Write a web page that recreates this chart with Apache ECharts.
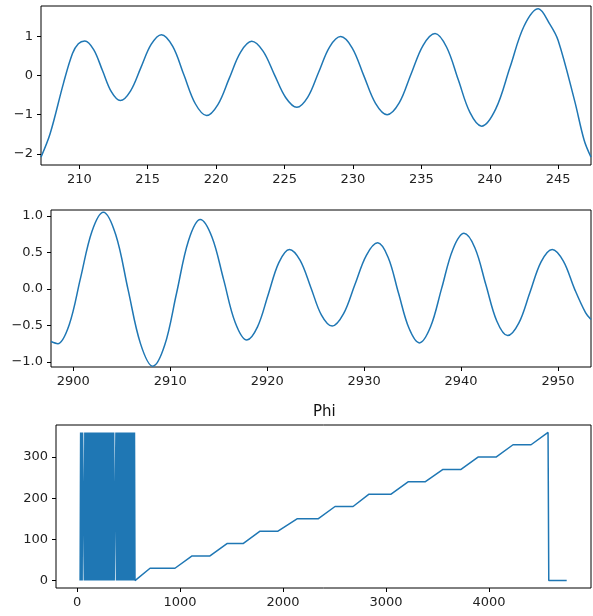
<!DOCTYPE html>
<html>
<head>
<meta charset="utf-8">
<script src="https://cdn.jsdelivr.net/npm/echarts@6/dist/echarts.min.js"></script>
<style>
html,body{margin:0;padding:0;background:#fff;}
#chart{width:593px;height:616px;}
</style>
</head>
<body>
<div id="chart"></div>
<script>
// ---- Panel 1 ----
const topX = [207.2, 207.87, 208.84, 209.5, 209.93, 210.4, 211.05, 211.7, 212.35, 213.0, 213.75, 214.5, 215.25, 216.0, 216.83, 217.65, 218.48, 219.3, 220.13, 220.95, 221.78, 222.6, 223.43, 224.25, 225.08, 225.9, 226.7, 227.5, 228.3, 229.1, 229.95, 230.8, 231.65, 232.5, 233.38, 234.25, 235.13, 236.0, 236.85, 237.7, 238.55, 239.4, 240.44, 241.48, 242.51, 243.55, 244.4, 245.0, 246.2, 246.9, 247.4];
const topY = [-2.08, -1.48, -0.2, 0.56, 0.81, 0.88, 0.66, 0.12, -0.42, -0.64, -0.39, 0.2, 0.79, 1.04, 0.74, 0.01, -0.72, -1.02, -0.74, -0.08, 0.59, 0.87, 0.62, 0.03, -0.56, -0.81, -0.55, 0.09, 0.73, 0.99, 0.7, -0.01, -0.71, -1.0, -0.7, 0.04, 0.77, 1.07, 0.72, -0.11, -0.94, -1.29, -0.85, 0.21, 1.26, 1.7, 1.3, 0.89, -0.64, -1.65, -2.08];
const topXTicks = [210, 215, 220, 225, 230, 235, 240, 245];
const topYTicks = [-2, -1, 0, 1];

// ---- Panel 2 ----
const midX = [2897.7, 2898.4, 2899.58, 2900.75, 2901.93, 2903.1, 2904.38, 2905.65, 2906.93, 2908.2, 2909.43, 2910.65, 2911.88, 2913.1, 2914.3, 2915.5, 2916.7, 2917.9, 2919.0, 2920.1, 2921.2, 2922.3, 2923.4, 2924.5, 2925.6, 2926.7, 2927.88, 2929.05, 2930.23, 2931.4, 2932.48, 2933.55, 2934.63, 2935.7, 2936.85, 2938.0, 2939.15, 2940.3, 2941.43, 2942.55, 2943.68, 2944.8, 2945.95, 2947.1, 2948.25, 2949.4, 2950.55, 2951.7, 2952.85, 2953.4];
const midY = [-0.72, -0.75, -0.49, 0.15, 0.79, 1.05, 0.74, -0.01, -0.75, -1.06, -0.77, -0.06, 0.66, 0.95, 0.71, 0.13, -0.46, -0.70, -0.52, -0.08, 0.36, 0.54, 0.39, 0.02, -0.36, -0.51, -0.34, 0.06, 0.46, 0.63, 0.43, -0.06, -0.54, -0.74, -0.52, 0.01, 0.54, 0.76, 0.56, 0.06, -0.44, -0.64, -0.47, -0.05, 0.37, 0.54, 0.38, 0.0, -0.33, -0.42];
const midXTicks = [2900, 2910, 2920, 2930, 2940, 2950];
const midYTicks = [-1.0, -0.5, 0.0, 0.5, 1.0];

// ---- Panel 3: Phi ----
const phiTitle = 'Phi';
const phiX = [
  30, 35, 40, 45, 50, 54,
  66, 71, 76, 81, 86, 91, 96, 101, 106, 111,
  116, 121, 126, 131, 136, 141, 146, 151, 156, 161,
  166, 171, 176, 181, 186, 191, 196, 201, 206, 211,
  216, 221, 226, 231, 236, 241, 246, 251, 256, 261,
  266, 271, 276, 281, 286, 291, 296, 301, 306, 311,
  316, 321, 326, 331, 336, 341, 346, 351, 356, 361,
  373,
  378, 383, 388, 393, 398, 403, 408, 413, 418, 423,
  428, 433, 438, 443, 448, 453, 458, 463, 468, 473,
  478, 483, 488, 493, 498, 503, 508, 513, 518, 523,
  528, 533, 538, 543, 548, 553, 558,
  563,
  709, 951, 1117, 1291, 1456, 1612, 1777, 1951, 2136, 2340, 2505, 2680, 2835, 3049, 3214, 3379, 3553, 3728, 3893, 4068, 4233, 4408, 4573, 4580, 4754];
const phiY = [
  0, 360, 0, 360, 0, 360,
  360, 0, 360, 0, 360, 0, 360, 0, 360, 0,
  360, 0, 360, 0, 360, 0, 360, 0, 360, 0,
  360, 0, 360, 0, 360, 0, 360, 0, 360, 0,
  360, 0, 360, 0, 360, 0, 360, 0, 360, 0,
  360, 0, 360, 0, 360, 0, 360, 0, 360, 0,
  360, 0, 360, 0, 360, 0, 360, 0, 360, 0,
  0,
  360, 0, 360, 0, 360, 0, 360, 0, 360, 0,
  360, 0, 360, 0, 360, 0, 360, 0, 360, 0,
  360, 0, 360, 0, 360, 0, 360, 0, 360, 0,
  360, 0, 360, 0, 360, 0, 360,
  0,
  30, 30, 60, 60, 90, 90, 120, 120, 150, 150, 180, 180, 210, 210, 240, 240, 270, 270, 300, 300, 330, 330, 360, 0, 0];
const phiXTicks = [0, 1000, 2000, 3000, 4000];
const phiYTicks = [0, 100, 200, 300];

const zip = (xs, ys) => xs.map((x, i) => [x, ys[i]]);
const minus = s => String(s).replace('-', '\u2212');

const lineColor = '#1f77b4';
const font = 'DejaVu Sans';
const textColor = '#222';

function axis(gi, min, max, ticks, fmt) {
  return {
    type: 'value', gridIndex: gi, min: min, max: max,
    splitLine: {show: false},
    axisLine: {show: false, onZero: false},
    axisTick: {show: true, inside: false, length: 4, lineStyle: {color: '#000', width: 1}, customValues: ticks},
    axisLabel: {customValues: ticks, formatter: fmt, color: textColor, fontFamily: font, fontSize: 13, margin: 8}
  };
}
function lineSeries(gi, data, smooth) {
  return {
    type: 'line', xAxisIndex: gi, yAxisIndex: gi, data: data,
    showSymbol: false, symbol: 'none', smooth: smooth, clip: true,
    lineStyle: {color: lineColor, width: 1.5}, animation: false
  };
}

const gridStyle = {show: true, borderColor: '#000', borderWidth: 1, backgroundColor: '#fff'};

const chart = echarts.init(document.getElementById('chart'), null, {renderer: 'canvas'});
chart.setOption({
  backgroundColor: '#fff',
  animation: false,
  title: {
    text: phiTitle, left: 313, top: 405, padding: 0,
    textStyle: {fontFamily: font, fontSize: 15, fontWeight: 'normal', color: '#111'}
  },
  grid: [
    Object.assign({left: 41, right: 2, top: 6, height: 159}, gridStyle),
    Object.assign({left: 51, right: 2, top: 210, height: 157}, gridStyle),
    Object.assign({left: 56, right: 2, top: 425, height: 163}, gridStyle)
  ],
  xAxis: [
    axis(0, 207.2, 247.4, topXTicks, v => minus(v)),
    axis(1, 2897.7, 2953.4, midXTicks, v => minus(v)),
    axis(2, -204, 4990, phiXTicks, v => minus(v))
  ],
  yAxis: [
    axis(0, -2.28, 1.77, topYTicks, v => minus(v)),
    axis(1, -1.07, 1.08, midYTicks, v => minus(Number(v).toFixed(1))),
    axis(2, -18, 378, phiYTicks, v => minus(v))
  ],
  series: [
    lineSeries(0, zip(topX, topY), 0.35),
    lineSeries(1, zip(midX, midY), 0.35),
    lineSeries(2, zip(phiX, phiY), false)
  ]
});
</script>
</body>
</html>
